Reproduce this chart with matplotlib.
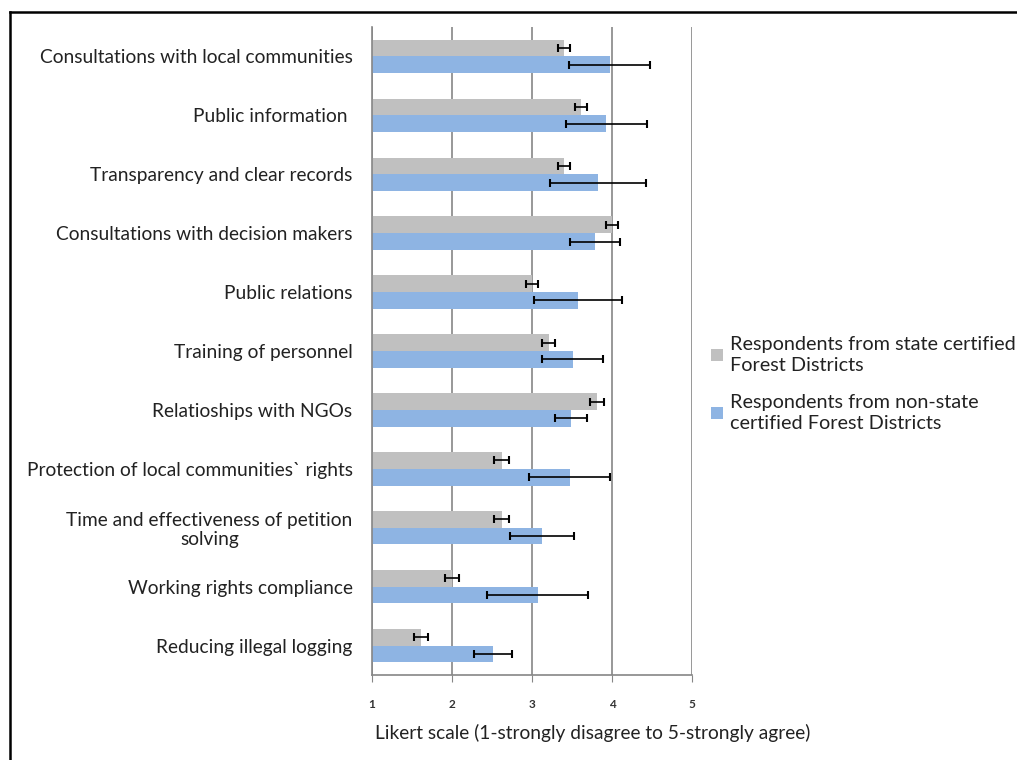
import numpy as np
import matplotlib
matplotlib.use("Agg")
import matplotlib.pyplot as plt
from matplotlib.lines import Line2D

# -------- DATA --------

categories = [
    "Consultations with local communities",
    "Public information ",
    "Transparency and clear records",
    "Consultations with decision makers",
    "Public relations",
    "Training of personnel",
    "Relatioships with NGOs",
    "Protection of local communities` rights",
    "Time and effectiveness of petition\nsolving",
    "Working rights compliance",
    "Reducing illegal logging",
]
state_mean = [3.4, 3.61, 3.4, 4.0, 3.0, 3.21, 3.81, 2.62, 2.62, 2.0, 1.61]
state_err = [0.08, 0.075, 0.08, 0.08, 0.08, 0.08, 0.09, 0.09, 0.09, 0.09, 0.09]
nonstate_mean = [3.97, 3.93, 3.83, 3.79, 3.57, 3.51, 3.49, 3.47, 3.13, 3.07, 2.51]
nonstate_err = [0.51, 0.51, 0.6, 0.31, 0.55, 0.38, 0.2, 0.51, 0.4, 0.63, 0.24]

legend_labels = [
    "Respondents from state certified\nForest Districts",
    "Respondents from non-state\ncertified Forest Districts",
]
xticks = [1, 2, 3, 4, 5]
xlabel = "Likert scale (1-strongly disagree to 5-strongly agree)"

# -------- PLOT --------

plt.rcParams['font.family'] = ['Lato', 'DejaVu Sans']

fig = plt.figure(figsize=(10.17, 7.6), dpi=100)
ax = fig.add_axes([372 / 1017, 1 - 675 / 760, 320 / 1017, 648 / 760])

y = np.arange(len(categories))
h = 0.284
gray = "#C0C0C0"
blue = "#8EB4E3"
text_color = "#222222"

ax.barh(y - h / 2, np.array(state_mean) - 1, left=1, height=h, color=gray,
        label=legend_labels[0], zorder=2)
ax.barh(y + h / 2, np.array(nonstate_mean) - 1, left=1, height=h, color=blue,
        label=legend_labels[1], zorder=2)
ax.errorbar(state_mean, y - h / 2, xerr=state_err, fmt='none', ecolor='black',
            elinewidth=1.2, capsize=3, capthick=1.5, zorder=3)
ax.errorbar(nonstate_mean, y + h / 2, xerr=nonstate_err, fmt='none', ecolor='black',
            elinewidth=1.2, capsize=3, capthick=1.5, zorder=3)

ax.set_xlim(1, 5)
ax.set_ylim(len(categories) - 0.5, -0.5)
ax.set_xticks(xticks)
ax.set_xticklabels([str(t) for t in xticks], fontsize=8.5, fontweight='bold',
                   color="#333333")
ax.set_yticks(y)
ax.set_yticklabels(categories, fontsize=13.8, color=text_color,
                   multialignment='center', linespacing=1.15)
ax.tick_params(axis='y', length=0, pad=14)
ax.tick_params(axis='x', length=5, color="#868686", pad=12)
ax.xaxis.grid(True, color="#868686", linewidth=1.2, zorder=0)
ax.set_axisbelow(True)
for side in ['top', 'right']:
    ax.spines[side].set_visible(False)
for side in ['left', 'bottom']:
    ax.spines[side].set_color("#868686")
    ax.spines[side].set_linewidth(1.2)
ax.set_xlabel(xlabel, fontsize=13.8, color=text_color, labelpad=10, x=0.69)

leg = fig.legend(loc='upper left', bbox_to_anchor=(703 / 1017, 1 - 328 / 760),
                 frameon=False, fontsize=14.3, handlelength=0.6, handleheight=0.6,
                 handletextpad=0.35, labelspacing=1.0, borderaxespad=0)
for t in leg.get_texts():
    t.set_color(text_color)
    t.set_linespacing(1.3)

# outer border (left and top only)
fig.add_artist(Line2D([10 / 1017, 10 / 1017], [0, 1 - 12 / 760], color="black",
                      linewidth=1.8, transform=fig.transFigure))
fig.add_artist(Line2D([10 / 1017, 1], [1 - 12 / 760, 1 - 12 / 760], color="black",
                      linewidth=1.8, transform=fig.transFigure))

fig.savefig("out.png", dpi=100)
